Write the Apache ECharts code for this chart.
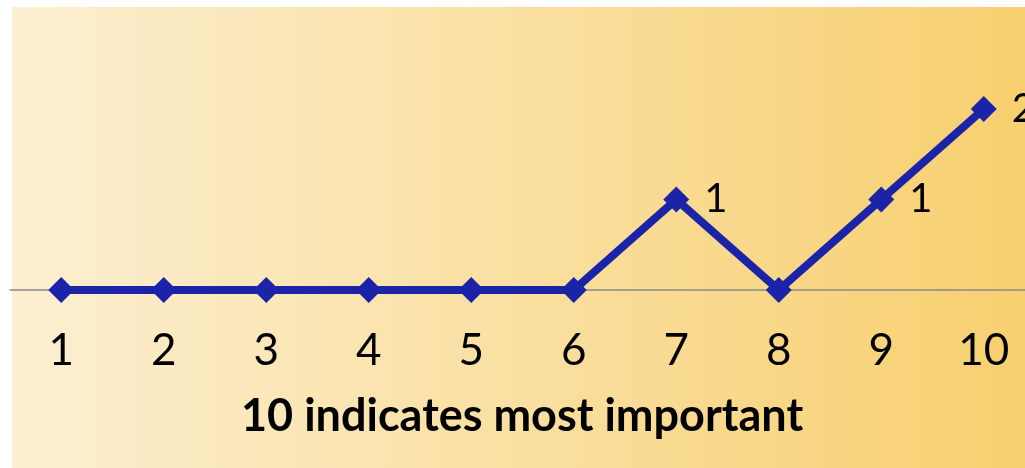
<!DOCTYPE html>
<html><head><meta charset="utf-8">
<script src="https://cdn.jsdelivr.net/npm/echarts@6/dist/echarts.min.js"></script>
<style>html,body{margin:0;padding:0;background:#fff;overflow:hidden;width:1025px;height:468px}#c{width:1035px;height:468px}</style>
</head><body><div id="c"></div>
<script>
const categories = ['1','2','3','4','5','6','7','8','9','10'];
const values = [0,0,0,0,0,0,1,0,1,2];
const titleText = '10 indicates most important';

const chart = echarts.init(document.getElementById('c'));
chart.setOption({
  animation: false,
  graphic: [{
    type: 'rect', left: 12, top: 7, z: -10,
    shape: {width: 1023, height: 461},
    style: {fill: new echarts.graphic.LinearGradient(0,0,1,0,[
      {offset:0, color:'#FCEFD2'},{offset:1, color:'#F7CF6E'}])}
  }],
  title: {text: titleText, left: 236, top: 389,
    textStyle: {fontFamily: 'Lato', fontWeight: 'bold', fontSize: 45, color: '#000'}},
  grid: {left: 10, right: 0, top: 18.5, bottom: 178},
  xAxis: {type: 'category', data: categories, boundaryGap: true,
    axisLine: {lineStyle: {color: '#8a8a8a', width: 1.5}},
    axisTick: {show: false},
    axisLabel: {fontFamily: 'Lato', fontSize: 44, color: '#000', margin: 39}},
  yAxis: {type: 'value', min: 0, max: 3, show: false, splitLine: {show: false}},
  series: [{
    type: 'line', data: values,
    symbol: 'diamond', symbolSize: 26,
    lineStyle: {color: '#1B24A8', width: 8},
    itemStyle: {color: '#1B24A8'},
    label: {show: true, position: 'right', distance: 15,
      fontFamily: 'Lato', fontSize: 40, color: '#000',
      formatter: p => p.value === 0 ? '' : String(p.value)}
  }]
});
</script></body></html>
